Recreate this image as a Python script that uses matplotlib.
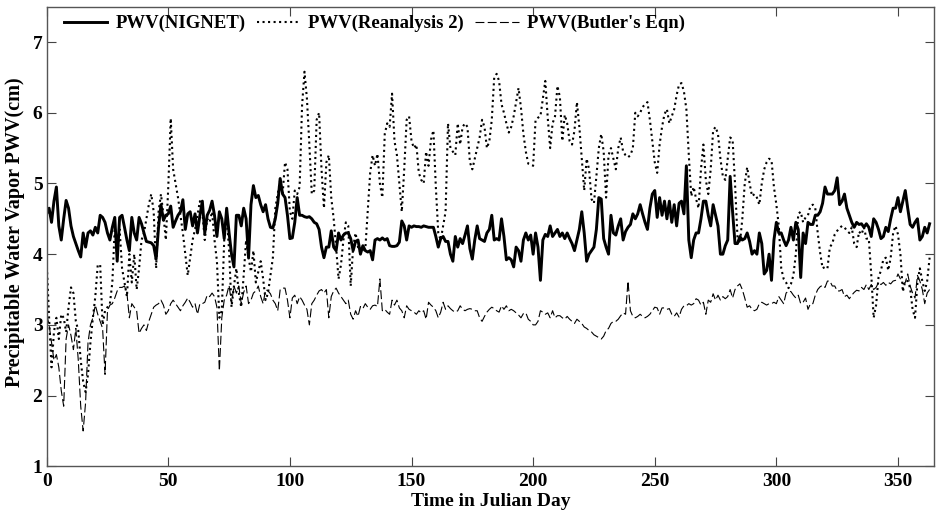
import numpy as np
import matplotlib
matplotlib.use('Agg')
import matplotlib.pyplot as plt

# Daily PWV values (cm), Julian day 0..363
pwv_nignet = [
    4.57, 4.65, 4.45, 4.75, 4.95, 4.4, 4.2, 4.5, 4.76, 4.65,
    4.4, 4.25, 4.15, 4.05, 3.96, 4.3, 4.1, 4.3, 4.33, 4.27,
    4.38, 4.3, 4.55, 4.52, 4.45, 4.3, 4.2, 4.38, 4.52, 3.9,
    4.52, 4.55, 4.38, 4.2, 4.05, 4.52, 4.3, 4.2, 4.52, 4.43,
    4.3, 4.18, 4.17, 4.16, 4.12, 3.93, 4.38, 4.7, 4.48, 4.55,
    4.57, 4.68, 4.38, 4.47, 4.55, 4.6, 4.77, 4.35, 4.57, 4.6,
    4.4, 4.57, 4.3, 4.55, 4.75, 4.3, 4.55, 4.62, 4.75, 4.55,
    4.25, 4.6, 4.5, 4.22, 4.65, 4.3, 4.0, 3.82, 4.55, 4.55,
    4.4, 4.65, 4.5, 3.95, 4.7, 4.97, 4.8, 4.83, 4.7, 4.6,
    4.7, 4.5, 4.38, 4.37, 4.5, 4.72, 5.07, 4.85, 4.8, 4.55,
    4.22, 4.23, 4.45, 4.8, 4.55, 4.55, 4.53, 4.52, 4.53, 4.5,
    4.45, 4.43, 4.35, 4.1, 3.95, 4.1, 4.1, 4.33, 4.1, 4.05,
    4.3, 4.2, 4.27, 4.3, 4.3, 4.22, 4.05, 4.18, 4.2, 4.0,
    4.12, 4.05, 4.03, 4.05, 3.92, 4.2, 4.22, 4.2, 4.23, 4.2,
    4.22, 4.12, 4.11, 4.11, 4.12, 4.17, 4.47, 4.4, 4.2, 4.4,
    4.38, 4.4, 4.39, 4.39, 4.38, 4.4, 4.39, 4.38, 4.38, 4.38,
    4.25, 4.1, 4.22, 4.25, 4.18, 4.18, 4.0, 3.9, 4.25, 4.1,
    4.22, 4.15, 4.27, 4.4, 4.08, 3.93, 4.2, 4.4, 4.22, 4.2,
    4.18, 4.3, 4.35, 4.55, 4.2, 4.22, 4.2, 4.5, 4.25, 3.92,
    3.95, 3.92, 3.82, 4.1, 4.05, 3.9, 4.2, 4.3, 4.2, 4.27,
    4.0, 4.3, 4.1, 3.63, 4.2, 4.28, 4.25, 4.4, 4.25, 4.3,
    4.35, 4.25, 4.3, 4.22, 4.3, 4.22, 4.15, 4.05, 4.2, 4.35,
    4.6, 4.3, 3.9, 4.0, 4.05, 4.1, 4.35, 4.8, 4.78, 4.22,
    4.1, 4.0, 4.55, 4.3, 4.27, 4.4, 4.5, 4.2, 4.32, 4.38,
    4.42, 4.57, 4.5, 4.57, 4.7, 4.57, 4.45, 4.35, 4.65, 4.85,
    4.9, 4.52, 4.8, 4.55, 4.75, 4.5, 4.75, 4.45, 4.7, 4.4,
    4.72, 4.75, 4.57, 5.25, 4.2, 3.95, 4.2, 4.3, 4.3, 4.5,
    4.75, 4.75, 4.55, 4.4, 4.7, 4.55, 4.4, 4.0, 4.0, 4.12,
    4.2, 5.1, 4.6, 4.15, 4.15, 4.25, 4.2, 4.22, 4.3, 4.18,
    4.0, 4.05, 4.0, 4.3, 4.15, 3.72, 3.77, 4.0, 3.63, 4.2,
    4.45, 4.3, 4.3, 4.2, 4.12, 4.2, 4.38, 4.2, 4.45, 4.35,
    3.67, 4.3, 4.15, 4.45, 4.42, 4.42, 4.55, 4.55, 4.6, 4.72,
    4.95, 4.85, 4.85, 4.85, 4.9, 5.08, 4.7, 4.75, 4.85, 4.65,
    4.55, 4.45, 4.38, 4.45, 4.42, 4.43, 4.38, 4.43, 4.38, 4.25,
    4.5, 4.45, 4.35, 4.22, 4.25, 4.38, 4.32, 4.5, 4.65, 4.65,
    4.8, 4.6, 4.75, 4.9, 4.65, 4.42, 4.38, 4.45, 4.5, 4.2,
    4.25, 4.38, 4.3, 4.43,
]

pwv_reanalysis = [
    3.9, 3.1, 2.4, 2.9, 3.1, 2.8, 3.15, 3.1, 2.9, 3.25,
    3.53, 3.45, 3.05, 2.92, 2.5, 2.2, 2.05, 2.3, 2.75, 3.1,
    3.4, 3.85, 3.85, 3.0, 3.2, 3.25, 3.3, 3.6, 4.38, 4.0,
    4.35, 3.8, 3.6, 3.4, 4.0, 3.6, 4.0, 3.5, 3.8, 4.2,
    4.3, 4.5, 4.7, 4.85, 4.6, 3.8, 4.6, 4.85, 4.55, 4.2,
    4.95, 5.92, 5.2, 5.0, 4.8, 4.55, 4.3, 4.0, 3.7, 3.95,
    4.2, 4.35, 4.55, 4.75, 4.6, 4.2, 4.5, 4.45, 4.6, 4.2,
    3.9, 3.1, 3.2, 4.2, 4.55, 4.05, 3.25, 3.55, 3.8, 3.45,
    3.25, 3.7, 4.2, 3.95, 3.75, 4.05, 3.6, 3.75, 3.9, 3.65,
    3.35, 3.45, 3.7, 3.95, 4.65, 4.85, 5.05, 4.85, 5.3, 5.2,
    4.6, 4.5, 4.9, 4.85, 4.95, 6.1, 6.58, 6.2, 5.55, 4.85,
    4.9, 5.9, 6.0, 5.2, 4.65, 5.3, 5.4, 4.8, 4.5, 4.1,
    3.65, 3.85, 4.2, 4.45, 4.4, 3.55, 4.1, 4.3, 4.1, 4.02,
    4.05, 4.07, 4.6, 5.15, 5.4, 5.25, 5.42, 5.0, 4.8, 5.7,
    5.85, 5.8, 6.27, 5.6, 5.4, 5.0, 4.6, 5.2, 5.9, 5.95,
    5.6, 5.5, 5.55, 5.15, 5.05, 5.0, 5.45, 5.25, 5.62, 5.75,
    4.95, 4.3, 4.2, 4.4, 4.6, 5.85, 5.5, 5.45, 5.4, 5.85,
    5.55, 5.8, 5.85, 5.8, 5.3, 5.2, 5.35, 5.5, 5.65, 5.9,
    5.8, 5.5, 5.6, 5.9, 6.5, 6.55, 6.45, 6.12, 6.0, 5.85,
    5.72, 5.8, 5.95, 6.15, 6.35, 6.07, 5.7, 5.45, 5.28, 5.27,
    5.25, 5.9, 5.93, 5.95, 6.2, 6.45, 5.93, 5.5, 5.85, 5.95,
    6.38, 6.22, 5.6, 5.97, 5.85, 5.6, 5.55, 5.75, 6.15, 5.8,
    5.35, 4.9, 5.35, 5.2, 4.78, 4.72, 5.1, 5.5, 5.7, 5.45,
    4.8, 5.4, 5.5, 5.35, 5.2, 5.5, 5.65, 5.45, 5.4, 5.37,
    5.4, 5.5, 6.0, 5.95, 6.0, 6.08, 6.12, 6.15, 5.9, 5.6,
    5.3, 5.15, 5.55, 5.8, 5.98, 6.05, 5.85, 5.95, 6.05, 6.25,
    6.4, 6.42, 6.3, 6.05, 5.4, 4.82, 4.95, 4.78, 4.65, 5.2,
    5.55, 5.05, 4.85, 5.2, 5.75, 5.8, 5.7, 5.35, 5.1, 5.05,
    5.35, 5.65, 5.62, 5.0, 4.25, 4.15, 4.5, 5.0, 5.23, 5.0,
    4.82, 4.85, 4.8, 4.7, 5.0, 5.2, 5.3, 5.35, 5.33, 4.95,
    4.7, 4.4, 3.8, 3.65, 3.6, 3.52, 3.58, 3.7, 4.0, 4.57,
    4.6, 4.45, 4.52, 4.55, 4.68, 4.7, 4.65, 4.3, 4.02, 3.8,
    3.82, 3.8, 4.1, 4.15, 4.28, 4.33, 4.37, 4.4, 4.38, 4.33,
    4.3, 4.38, 4.15, 4.1, 4.32, 4.28, 4.38, 4.22, 4.22, 3.72,
    3.1, 3.28, 3.67, 3.77, 3.93, 3.95, 3.77, 3.95, 4.3, 4.4,
    4.28, 4.0, 3.47, 3.62, 3.62, 3.52, 3.22, 3.1, 3.6, 3.8,
    3.62, 3.48, 3.62, 3.95,
]

pwv_butler = [
    3.15, 3.0, 2.75, 2.5, 2.58, 2.4, 2.07, 1.85, 2.8, 3.0,
    2.85, 2.65, 2.95, 2.5, 1.85, 1.5, 1.9, 2.75, 3.0, 3.1,
    3.28, 3.15, 3.05, 2.95, 2.3, 3.2, 3.28, 3.3, 3.38, 3.48,
    3.53, 3.53, 3.55, 3.45, 3.1, 3.3, 3.25, 3.2, 2.88, 2.95,
    3.0, 2.92, 3.05, 3.15, 3.25, 3.28, 3.3, 3.35, 3.28, 3.15,
    3.2, 3.3, 3.35, 3.3, 3.25, 3.2, 3.27, 3.32, 3.38, 3.32,
    3.25, 3.3, 3.15, 3.3, 3.3, 3.32, 3.42, 3.4, 3.45, 3.4,
    3.25, 2.35, 3.1, 3.35, 3.42, 3.56, 3.3, 3.55, 3.45, 3.55,
    3.3, 3.46, 3.55, 3.3, 3.35, 3.45, 3.48, 3.55, 3.4, 3.3,
    3.5, 3.48, 3.44, 3.35, 3.3, 3.2, 3.5, 3.52, 3.52, 3.35,
    3.1, 3.38, 3.42, 3.3, 3.4, 3.35, 3.28, 3.22, 3.0, 3.3,
    3.35, 3.42, 3.48, 3.5, 3.45, 3.5, 3.1, 3.4, 3.48, 3.52,
    3.45, 3.4, 3.35, 3.3, 3.35, 3.15, 3.08, 3.2, 3.12, 3.26,
    3.23, 3.3, 3.25, 3.22, 3.27, 3.28, 3.26, 3.65, 3.2, 3.22,
    3.18, 3.15, 3.35, 3.28, 3.35, 3.24, 3.2, 3.1, 3.27, 3.22,
    3.2, 3.18, 3.15, 3.2, 3.17, 3.2, 3.08, 3.32, 3.28, 3.25,
    3.2, 3.1, 3.18, 3.32, 3.22, 3.27, 3.23, 3.2, 3.18, 3.2,
    3.27, 3.22, 3.2, 3.22, 3.23, 3.22, 3.2, 3.2, 3.1, 3.05,
    3.12, 3.18, 3.22, 3.25, 3.23, 3.2, 3.18, 3.27, 3.22, 3.27,
    3.2, 3.22, 3.2, 3.17, 3.14, 3.1, 3.16, 3.17, 3.08, 3.05,
    3.0, 3.0, 3.05, 3.2, 3.18, 3.15, 3.17, 3.1, 3.2, 3.1,
    3.13, 3.13, 3.1, 3.08, 3.12, 3.08, 3.05, 3.02, 3.08, 3.05,
    3.02, 2.97, 2.95, 2.92, 2.9, 2.86, 2.84, 2.82, 2.8, 2.84,
    2.92, 2.95, 3.02, 3.05, 3.05, 3.08, 3.13, 3.17, 3.15, 3.62,
    3.2, 3.12, 3.1, 3.12, 3.15, 3.12, 3.1, 3.12, 3.15, 3.2,
    3.25, 3.24, 3.15, 3.24, 3.24, 3.22, 3.23, 3.15, 3.12, 3.17,
    3.11, 3.22, 3.27, 3.27, 3.3, 3.28, 3.3, 3.37, 3.35, 3.28,
    3.32, 3.15, 3.35, 3.32, 3.44, 3.35, 3.42, 3.35, 3.4, 3.37,
    3.4, 3.5, 3.38, 3.5, 3.55, 3.58, 3.5, 3.38, 3.25, 3.27,
    3.22, 3.2, 3.22, 3.3, 3.32, 3.3, 3.28, 3.3, 3.3, 3.32,
    3.3, 3.4, 3.35, 3.3, 3.45, 3.48, 3.47, 3.42, 3.38, 3.42,
    3.3, 3.32, 3.38, 3.22, 3.3, 3.3, 3.42, 3.5, 3.54, 3.56,
    3.53, 3.62, 3.62, 3.55, 3.55, 3.48, 3.48, 3.5, 3.4, 3.42,
    3.37, 3.42, 3.46, 3.49, 3.48, 3.53, 3.5, 3.57, 3.5, 3.57,
    3.5, 3.53, 3.6, 3.57, 3.6, 3.56, 3.6, 3.58, 3.62, 3.63,
    3.72, 3.65, 3.58, 3.6, 3.72, 3.55, 3.45, 3.38, 3.7, 3.62,
    3.5, 3.3, 3.45, 3.5,
]

days = np.arange(len(pwv_nignet))

plt.rcParams['font.family'] = ['Liberation Serif', 'DejaVu Serif']
plt.rcParams['font.weight'] = 'bold'

fig = plt.figure(figsize=(9.37, 5.18), dpi=100)
ax = fig.add_axes([0.0498, 0.0998, 0.9475, 0.8873])

ax.plot(days, pwv_nignet, color='black', linewidth=2.1, label='PWV(NIGNET)')
ax.plot(days, pwv_reanalysis, color='black', linewidth=1.5, linestyle=':',
        label='PWV(Reanalysis 2)')
ax.plot(days, pwv_butler, color='black', linewidth=0.8, linestyle=(0, (8, 3)),
        label="PWV(Butler's Eqn)")

ax.set_xlim(0, 365)
ax.set_ylim(1, 7.5)
ax.set_xticks(range(0, 351, 50))
ax.set_yticks(range(1, 8))
ax.tick_params(direction='in', length=6.5, width=0.8, top=True, right=True,
               labelsize=14, color='#444444')
ax.tick_params(axis='x', pad=5)
ax.tick_params(axis='y', pad=3)
for lbl in ax.get_xticklabels() + ax.get_yticklabels():
    lbl.set_fontweight('bold')
for sp in ax.spines.values():
    sp.set_linewidth(1.0)
    sp.set_color('#555555')

ax.set_xlabel('Time in Julian Day', fontsize=14, fontweight='bold', labelpad=2)
ax.set_ylabel('Precipitable Water Vapor PWV(cm)', fontsize=14.5, fontweight='bold')
ax.yaxis.set_label_coords(-0.024, 0.51)

leg = ax.legend(loc='upper left', ncol=3, frameon=False, fontsize=13.5,
                handlelength=2.3, columnspacing=0.6, handletextpad=0.45,
                borderaxespad=0.0, borderpad=0.0,
                bbox_to_anchor=(0.0195, 0.982))
for t in leg.get_texts():
    t.set_fontweight('bold')

fig.savefig('out.png', dpi=100)
